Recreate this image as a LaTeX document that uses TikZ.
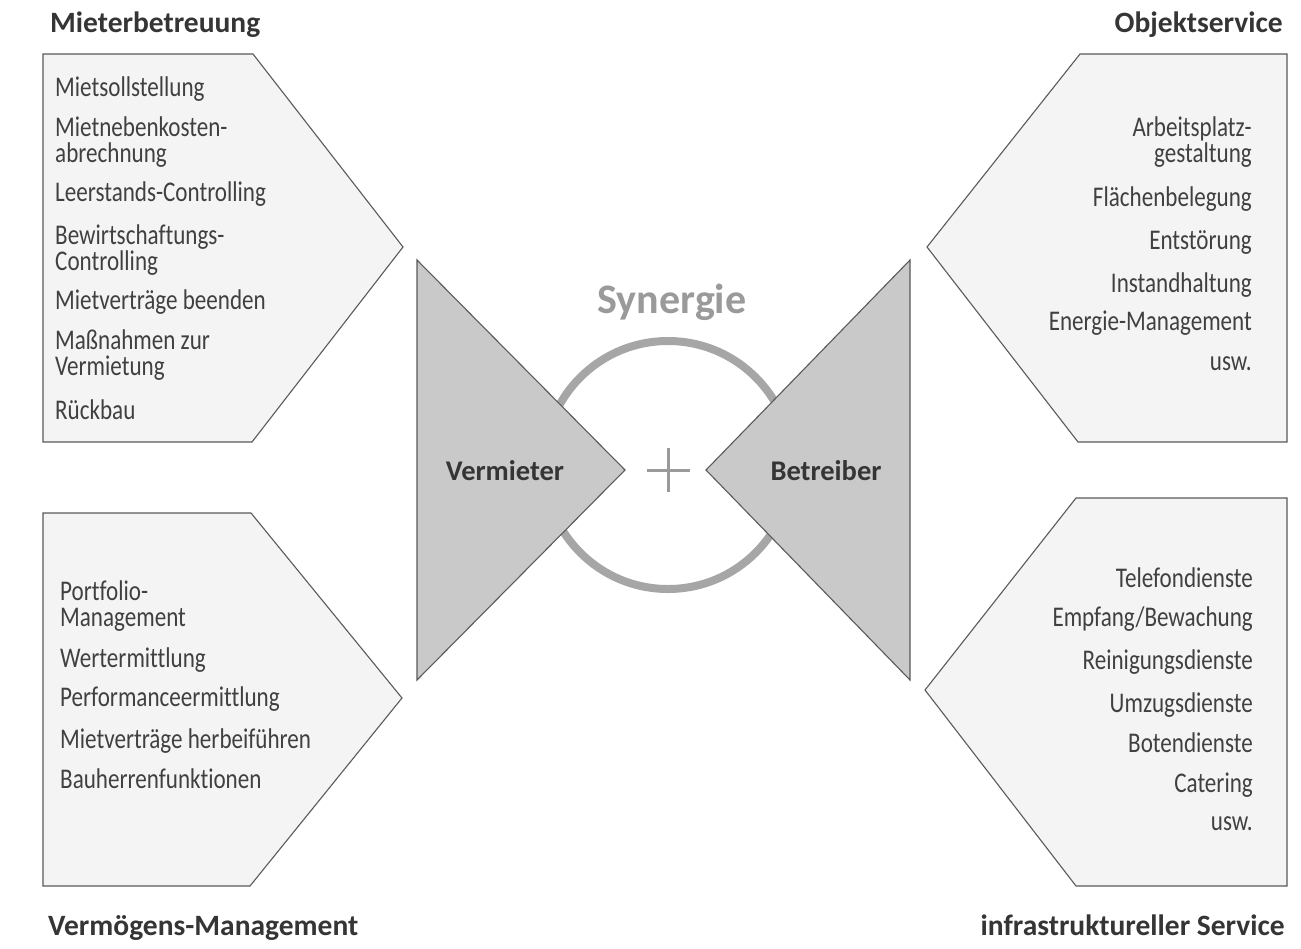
\documentclass[tikz,border=0pt]{standalone}
\usepackage{fontspec}
\setmainfont{Carlito}[Ligatures=NoCommon]
\newfontfamily\itemfont[FakeStretch=0.81,Ligatures=NoCommon]{Carlito}
\definecolor{inkdark}{HTML}{353535}
\definecolor{inkitem}{HTML}{404040}
\definecolor{boxfill}{HTML}{F4F4F4}
\definecolor{boxline}{HTML}{5A5A5A}
\definecolor{wedgefill}{HTML}{C9C9C9}
\definecolor{ringgray}{HTML}{A6A6A6}
\definecolor{syngray}{HTML}{9A9A9A}
\tikzset{
  panel/.style={draw=boxline, fill=boxfill, line width=1.1pt, line join=miter},
  wedge/.style={draw=boxline, fill=wedgefill, line width=1.1pt, line join=miter},
  item/.style={inner sep=0pt, text=inkitem, text height=19pt, text depth=5.5pt,
    font=\itemfont\fontsize{28.5}{30}\selectfont},
  itemL/.style={item, anchor=base west},
  itemR/.style={item, anchor=base east},
  heading/.style={inner sep=0pt, text=inkdark, font=\bfseries\fontsize{29.5}{32}\selectfont},
  actor/.style={inner sep=0pt, text=inkdark, font=\bfseries\fontsize{28.5}{30}\selectfont, anchor=base},
}
\begin{document}
\begin{tikzpicture}[x=1pt,y=-1pt]
\useasboundingbox (0,0) rectangle (1301,948);
\fill[white] (0,0) rectangle (1301,948);

% four pentagonal panels
\draw[panel] (43,54) -- (253,54) -- (403,247) -- (252,442) -- (43,442) -- cycle;
\draw[panel] (43,513) -- (251,513) -- (402,698) -- (250,886) -- (43,886) -- cycle;
\draw[panel] (1287,54) -- (1080,54) -- (927,247) -- (1078,442) -- (1287,442) -- cycle;
\draw[panel] (1287,498) -- (1076,498) -- (925,690) -- (1076,886) -- (1287,886) -- cycle;

% synergy ring and plus
\coordinate (ctr) at (668,465);
\draw[ringgray, line width=8pt] (ctr) circle[radius=124];
\draw[syngray, line width=3pt] (647,470) -- (690,470) (668,448) -- (668,492);
\node[inner sep=0pt, anchor=base, text=syngray, font=\bfseries\fontsize{42}{44}\selectfont] (syn) at (672,313) {Synergie};

% the two wedges
\draw[wedge] (417,260) -- (625,470) -- (417,680) -- cycle;
\draw[wedge] (910,260) -- (706,470) -- (910,680) -- cycle;
\node[actor] (vermieter) at (505,480) {Vermieter};
\node[actor] (betreiber) at (826,480) {Betreiber};

% headings
\node[heading, anchor=base west] (h1) at (50,32) {Mieterbetreuung};
\node[heading, anchor=base east] (h2) at (1283,32) {Objektservice};
\node[heading, anchor=base west] (h3) at (48,935) {Vermögens-Management};
\node[heading, anchor=base east] (h4) at (1285,935) {infrastruktureller Service};

% Mieterbetreuung items
\node[itemL] (a1) at (55,96) {Mietsollstellung};
\node[itemL] (a2) at (55,136) {Mietnebenkosten-};
\node[itemL] (a3) at (55,162) {abrechnung};
\node[itemL] (a4) at (55,201) {Leerstands-Controlling};
\node[itemL] (a5) at (55,244) {Bewirtschaftungs-};
\node[itemL] (a6) at (55,270) {Controlling};
\node[itemL] (a7) at (55,309) {Mietverträge beenden};
\node[itemL] (a8) at (55,349) {Maßnahmen zur};
\node[itemL] (a9) at (55,375) {Vermietung};
\node[itemL] (a10) at (55,419) {Rückbau};

% Vermögens-Management items
\node[itemL] (b1) at (60,600) {Portfolio-};
\node[itemL] (b2) at (60,626) {Management};
\node[itemL] (b3) at (60,667) {Wertermittlung};
\node[itemL] (b4) at (60,706) {Performanceermittlung};
\node[itemL] (b5) at (60,748) {Mietverträge herbeiführen};
\node[itemL] (b6) at (60,788) {Bauherrenfunktionen};

% Objektservice items
\node[itemR] (c1) at (1252,136) {Arbeitsplatz-};
\node[itemR] (c2) at (1252,162) {gestaltung};
\node[itemR] (c3) at (1252,206) {Flächenbelegung};
\node[itemR] (c4) at (1252,249) {Entstörung};
\node[itemR] (c5) at (1252,292) {Instandhaltung};
\node[itemR] (c6) at (1252,330) {Energie-Management};
\node[itemR] (c7) at (1252,370) {usw.};

% infrastruktureller Service items
\node[itemR] (d1) at (1253,587) {Telefondienste};
\node[itemR] (d2) at (1253,626) {Empfang/Bewachung};
\node[itemR] (d3) at (1253,669) {Reinigungsdienste};
\node[itemR] (d4) at (1253,712) {Umzugsdienste};
\node[itemR] (d5) at (1253,752) {Botendienste};
\node[itemR] (d6) at (1253,792) {Catering};
\node[itemR] (d7) at (1253,830) {usw.};
\end{tikzpicture}
\end{document}
